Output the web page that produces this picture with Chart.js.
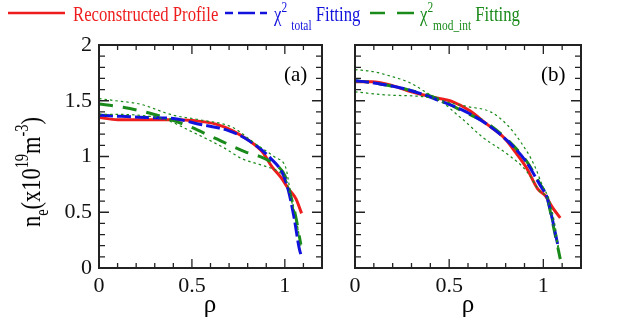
<!DOCTYPE html>
<html>
<head>
<meta charset="utf-8">
<script src="https://cdn.jsdelivr.net/npm/chart.js@4/dist/chart.umd.min.js"></script>
<style>
  html, body { margin: 0; padding: 0; background: #fff; }
  body { width: 624px; height: 331px; position: relative; overflow: hidden; font-family: "Liberation Serif", "DejaVu Serif", serif; }
  canvas { position: absolute; top: 0; }
  #cA { left: 0; }
  #cB { left: 340px; }
  .lg { position: absolute; top: 0; height: 30px; font-size: 22px; line-height: 22px; white-space: nowrap; transform: scaleX(0.76); transform-origin: 0 0; }
  .lg sup { font-size: 15px; vertical-align: 9px; line-height: 0; }
  .lg sub { font-size: 15px; vertical-align: -9px; line-height: 0; }
  svg.ln { position: absolute; top: 7px; height: 12px; overflow: visible; }
  #ytitle { position: absolute; left: 31px; top: 172px; font-size: 28px; white-space: nowrap; transform: translate(-50%, -50%) rotate(-90deg) scaleX(0.8); }
  #ytitle sup, #ytitle sub { font-size: 18px; line-height: 0; }
  #ytitle sup { vertical-align: 12px; }
  #ytitle sub { vertical-align: -8px; }
  .xt { position: absolute; top: 290px; font-size: 25px; transform: translateX(-50%); }
  .pl { position: absolute; top: 62px; font-size: 21px; }
</style>
</head>
<body>
<canvas id="cA" width="332" height="331"></canvas>
<canvas id="cB" width="250" height="331"></canvas>

<svg class="ln" style="left:8px; width:57px;"><line x1="0" y1="6" x2="57" y2="6" stroke="#ee1c1c" stroke-width="2.5"/></svg>
<div class="lg" style="left:73px; top:3px; color:#ee1c1c;">Reconstructed Profile</div>
<svg class="ln" style="left:225px; width:42px;"><line x1="0" y1="6" x2="42" y2="6" stroke="#1212dd" stroke-width="2.5" stroke-dasharray="8 5 17 5 8"/></svg>
<div class="lg" style="left:274px; top:3px; color:#1212dd;">χ<sup>2</sup> <sub>total</sub> Fitting</div>
<svg class="ln" style="left:370px; width:44px;"><line x1="0" y1="6" x2="44" y2="6" stroke="#1a8a1a" stroke-width="2.5" stroke-dasharray="15 12 17"/></svg>
<div class="lg" style="left:420px; top:3px; color:#1a8a1a;">χ<sup>2</sup><sub>mod_int</sub> Fitting</div>

<div id="ytitle">n<sub>e</sub>(x10<sup>19</sup>m<sup>-3</sup>)</div>
<div class="xt" style="left:210px;">ρ</div>
<div class="xt" style="left:468px;">ρ</div>
<div class="pl" style="left:284px;">(a)</div>
<div class="pl" style="left:541px;">(b)</div>

<script>
// ---------- Data ----------
// Panel (a)
const redA_rho   = [0, 0.1, 0.2, 0.3, 0.4, 0.52, 0.63, 0.72, 0.81, 0.88, 0.93, 0.98, 1.02, 1.06, 1.09];
const redA_ne    = [1.35, 1.33, 1.33, 1.33, 1.33, 1.32, 1.29, 1.23, 1.14, 1.04, 0.91, 0.81, 0.71, 0.62, 0.49];
const blueA_rho  = [0, 0.12, 0.25, 0.40, 0.54, 0.70, 0.81, 0.92, 0.99, 1.02, 1.05, 1.077, 1.09];
const blueA_ne   = [1.37, 1.36, 1.35, 1.34, 1.29, 1.23, 1.14, 0.99, 0.84, 0.69, 0.45, 0.18, 0.10];
const greenA_rho = [0, 0.1, 0.27, 0.47, 0.63, 0.79, 0.88, 0.97, 1.0, 1.03, 1.06, 1.086];
const greenA_ne  = [1.47, 1.45, 1.39, 1.28, 1.16, 1.04, 0.99, 0.90, 0.83, 0.66, 0.45, 0.21];
const upA_rho    = [0, 0.09, 0.22, 0.40, 0.54, 0.72, 0.845, 0.95, 1.005, 1.03, 1.06, 1.086];
const upA_ne     = [1.52, 1.50, 1.47, 1.37, 1.33, 1.26, 1.11, 0.99, 0.90, 0.68, 0.45, 0.21];
const loA_rho    = [0, 0.22, 0.36, 0.49, 0.67, 0.77, 0.88, 0.97, 1.005, 1.03, 1.06, 1.086];
const loA_ne     = [1.38, 1.37, 1.33, 1.23, 1.08, 0.98, 0.92, 0.86, 0.80, 0.64, 0.44, 0.20];
// Panel (b)
const redB_rho   = [0, 0.09, 0.19, 0.28, 0.42, 0.52, 0.61, 0.70, 0.79, 0.86, 0.91, 0.97, 1.01, 1.05, 1.09];
const redB_ne    = [1.67, 1.67, 1.64, 1.59, 1.53, 1.49, 1.41, 1.29, 1.17, 1.02, 0.90, 0.71, 0.65, 0.54, 0.45];
const blueB_rho  = [0, 0.1, 0.28, 0.45, 0.59, 0.70, 0.81, 0.91, 0.98, 1.02, 1.05, 1.08];
const blueB_ne   = [1.68, 1.66, 1.60, 1.50, 1.40, 1.29, 1.14, 0.95, 0.75, 0.63, 0.42, 0.18];
const greenB_rho = [0, 0.1, 0.28, 0.45, 0.59, 0.70, 0.79, 0.91, 0.98, 1.02, 1.05, 1.09];
const greenB_ne  = [1.68, 1.66, 1.60, 1.51, 1.39, 1.30, 1.18, 0.96, 0.76, 0.63, 0.40, 0.08];
const upB_rho    = [0, 0.1, 0.19, 0.28, 0.45, 0.59, 0.72, 0.81, 0.88, 0.95, 1.0, 1.03, 1.06, 1.09];
const upB_ne     = [1.78, 1.76, 1.72, 1.67, 1.51, 1.45, 1.40, 1.28, 1.13, 0.93, 0.72, 0.62, 0.40, 0.08];
const loB_rho    = [0, 0.19, 0.42, 0.56, 0.68, 0.81, 0.91, 0.98, 1.02, 1.05, 1.09];
const loB_ne     = [1.58, 1.55, 1.52, 1.35, 1.17, 1.02, 0.87, 0.69, 0.62, 0.40, 0.08];

const xMajorLabels = [0, 0.5, 1];
const yMajorLabels = [0, 0.5, 1, 1.5, 2];

const RED = '#ee1c1c', BLUE = '#1212dd', GREEN = '#1a8a1a';

function pts(xs, ys) { return xs.map((x, i) => ({ x: x, y: ys[i] })); }
function isMajor(v) { return Math.abs(v * 2 - Math.round(v * 2)) < 1e-6; }

const framePlugin = {
  id: 'frame',
  afterDatasetsDraw(chart) {
    const ctx = chart.ctx, a = chart.chartArea;
    const xs = chart.scales.x, ys = chart.scales.y;
    ctx.save();
    ctx.strokeStyle = '#222';
    ctx.lineWidth = 1.3;
    xs.ticks.forEach(t => {
      const p = xs.getPixelForValue(t.value);
      const L = isMajor(t.value) ? 9 : 5;
      ctx.beginPath();
      ctx.moveTo(p, a.bottom); ctx.lineTo(p, a.bottom - L);
      ctx.moveTo(p, a.top); ctx.lineTo(p, a.top + L);
      ctx.stroke();
    });
    ys.ticks.forEach(t => {
      const p = ys.getPixelForValue(t.value);
      const L = isMajor(t.value) ? 10 : 6;
      ctx.beginPath();
      ctx.moveTo(a.left, p); ctx.lineTo(a.left + L, p);
      ctx.moveTo(a.right, p); ctx.lineTo(a.right - L, p);
      ctx.stroke();
    });
    ctx.lineWidth = 2;
    ctx.strokeRect(a.left, a.top, a.right - a.left, a.bottom - a.top);
    ctx.restore();
  }
};

function makeChart(id, yAxisWidth, padRight, showYLabels, red, blue, green, up, lo) {
  const dotted = (d) => ({ data: d, borderColor: GREEN, borderWidth: 1.2, borderDash: [2.5, 3], pointRadius: 0, showLine: true, cubicInterpolationMode: 'monotone', fill: false });
  return new Chart(document.getElementById(id), {
    type: 'scatter',
    data: {
      datasets: [
        dotted(up),
        dotted(lo),
        { data: blue, borderColor: BLUE, borderWidth: 3, borderDash: [14, 4], pointRadius: 0, showLine: true, cubicInterpolationMode: 'monotone' },
        { data: green, borderColor: GREEN, borderWidth: 3, borderDash: [14, 10], pointRadius: 0, showLine: true, cubicInterpolationMode: 'monotone' },
        { data: red, borderColor: RED, borderWidth: 3, pointRadius: 0, showLine: true, cubicInterpolationMode: 'monotone' }
      ]
    },
    options: {
      responsive: false,
      animation: false,
      devicePixelRatio: 1,
      layout: { padding: { top: 45, right: padRight, left: 0, bottom: 0 } },
      plugins: { legend: { display: false }, tooltip: { enabled: false } },
      scales: {
        x: {
          type: 'linear', min: 0, max: 1.2,
          grid: { display: false, drawTicks: false },
          border: { display: false },
          ticks: {
            stepSize: 0.1, autoSkip: false, maxRotation: 0, padding: 5,
            color: '#111', font: { family: 'Liberation Serif', size: 22 },
            callback: (v) => xMajorLabels.some(m => Math.abs(m - v) < 1e-6) ? String(Math.round(v * 10) / 10) : ''
          },
          afterFit: (s) => { s.height = 63; }
        },
        y: {
          type: 'linear', min: 0, max: 2,
          grid: { display: false, drawTicks: false },
          border: { display: false },
          ticks: {
            display: showYLabels,
            stepSize: 0.1, autoSkip: false, padding: 7,
            color: '#111', font: { family: 'Liberation Serif', size: 22 },
            callback: (v) => yMajorLabels.some(m => Math.abs(m - v) < 1e-6) ? String(Math.round(v * 10) / 10) : ''
          },
          afterFit: (s) => { s.width = yAxisWidth; }
        }
      }
    },
    plugins: [framePlugin]
  });
}

makeChart('cA', 99, 10, true,
  pts(redA_rho, redA_ne), pts(blueA_rho, blueA_ne), pts(greenA_rho, greenA_ne),
  pts(upA_rho, upA_ne), pts(loA_rho, loA_ne));
makeChart('cB', 15, 9, false,
  pts(redB_rho, redB_ne), pts(blueB_rho, blueB_ne), pts(greenB_rho, greenB_ne),
  pts(upB_rho, upB_ne), pts(loB_rho, loB_ne));
</script>
</body>
</html>
